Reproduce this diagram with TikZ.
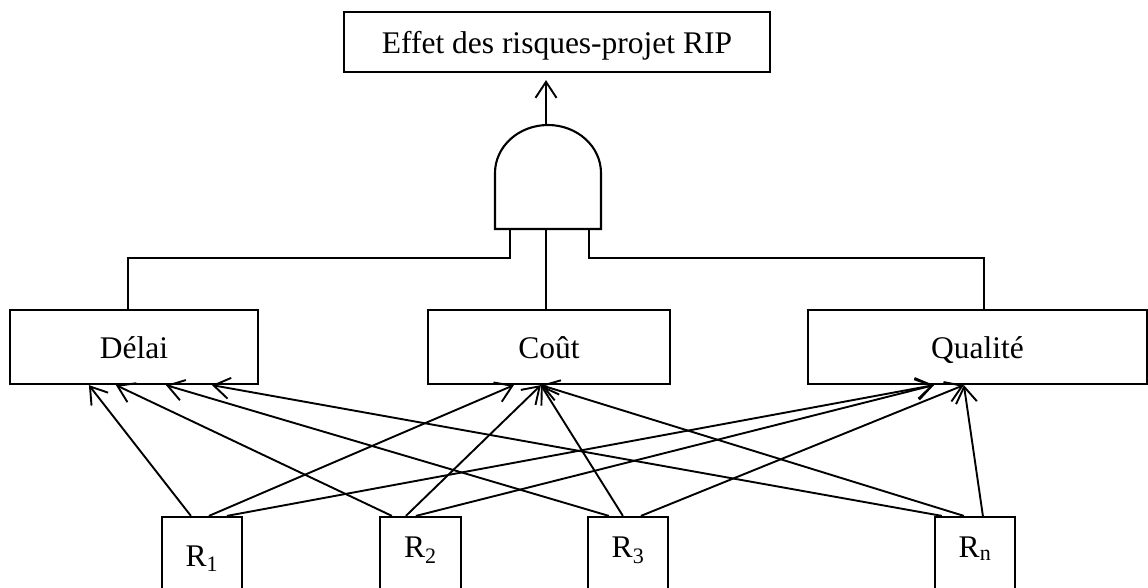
\documentclass[tikz,border=0pt]{standalone}
\usepackage{fontspec}
\setmainfont{Liberation Serif}
\usetikzlibrary{arrows.meta}
\begin{document}
\begin{tikzpicture}[x=1pt,y=-1pt,
  box/.style={draw,line width=2.2pt,inner sep=0pt,font=\fontsize{31.5}{37}\selectfont,text height=23pt,text depth=0pt},
  rbox/.style={draw,line width=2.2pt,inner sep=0pt,font=\fontsize{31.5}{37}\selectfont,text height=0pt,text depth=0pt,minimum width=80pt},
  wire/.style={line width=1.6pt},
  gatestyle/.style={line width=2.1pt,line join=miter},
  arr/.style={line width=1.9pt,-{Straight Barb[length=16pt,width=21pt]}}
]
\clip (0,0) rectangle (1148,587);
\fill[white] (0,0) rectangle (1148,587);

% boxes
\node[box,minimum width=426pt,minimum height=60pt,text height=22pt] (top) at (557,42) {Effet des risques-projet RIP};
\node[box,minimum width=248pt,minimum height=74pt] (delai) at (134,347) {Délai};
\node[box,minimum width=242pt,minimum height=74pt] (cout) at (549,347) {Coût};
\node[box,minimum width=339pt,minimum height=74pt] (qualite) at (977.5,347) {Qualité};

\node[rbox,minimum height=98pt] (r1) at (202,566) {R\textsubscript{1}};
\node[rbox,minimum height=80pt,minimum width=81pt] (r2) at (420.5,557) {R\textsubscript{2}};
\node[rbox,minimum height=80pt] (r3) at (628,557) {R\textsubscript{3}};
\node[rbox,minimum height=80pt] (rn) at (975,557) {R\textsubscript{n}};

% AND gate
\draw[gatestyle] (495,229) -- (495,173) arc[start angle=180,end angle=0,x radius=53pt,y radius=48pt] -- (601,229) -- cycle;
\coordinate (gtop) at (546,125);
\coordinate (gL) at (510,229);
\coordinate (gC) at (546,229);
\coordinate (gR) at (589,229);

\draw[arr] (gtop) -- ([yshift=-7pt]gtop |- top.south);

% gate inputs
\draw[wire] (gL) -- (510,258) -| ([xshift=-6pt]delai.north);
\draw[wire,line width=1.9pt] (gC) -- (gC |- cout.north);
\draw[wire] (gR) -- (589,258) -| ([xshift=6.5pt]qualite.north);

% risk arrows
\draw[arr] ([xshift=30pt]r1.north west) -- ([xshift=80pt]delai.south west);
\draw[arr] ([xshift=48pt]r1.north west) -- ([xshift=87pt]cout.south west);
\draw[arr] ([xshift=66pt]r1.north west) -- ([xshift=127pt]qualite.south west);

\draw[arr] ([xshift=13pt]r2.north west) -- ([xshift=107pt]delai.south west);
\draw[arr] ([xshift=27pt]r2.north west) -- ([xshift=114pt]cout.south west);
\draw[arr] ([xshift=37pt]r2.north west) -- ([xshift=127pt]qualite.south west);

\draw[arr] ([xshift=22pt]r3.north west) -- ([xshift=157pt]delai.south west);
\draw[arr] ([xshift=36pt]r3.north west) -- ([xshift=114pt]cout.south west);
\draw[arr] ([xshift=54pt]r3.north west) -- ([xshift=157pt]qualite.south west);

\draw[arr] ([xshift=8pt]rn.north west) -- ([xshift=203pt]delai.south west);
\draw[arr] ([xshift=30pt]rn.north west) -- ([xshift=114pt]cout.south west);
\draw[arr] ([xshift=49pt]rn.north west) -- ([xshift=157pt]qualite.south west);
\end{tikzpicture}
\end{document}
